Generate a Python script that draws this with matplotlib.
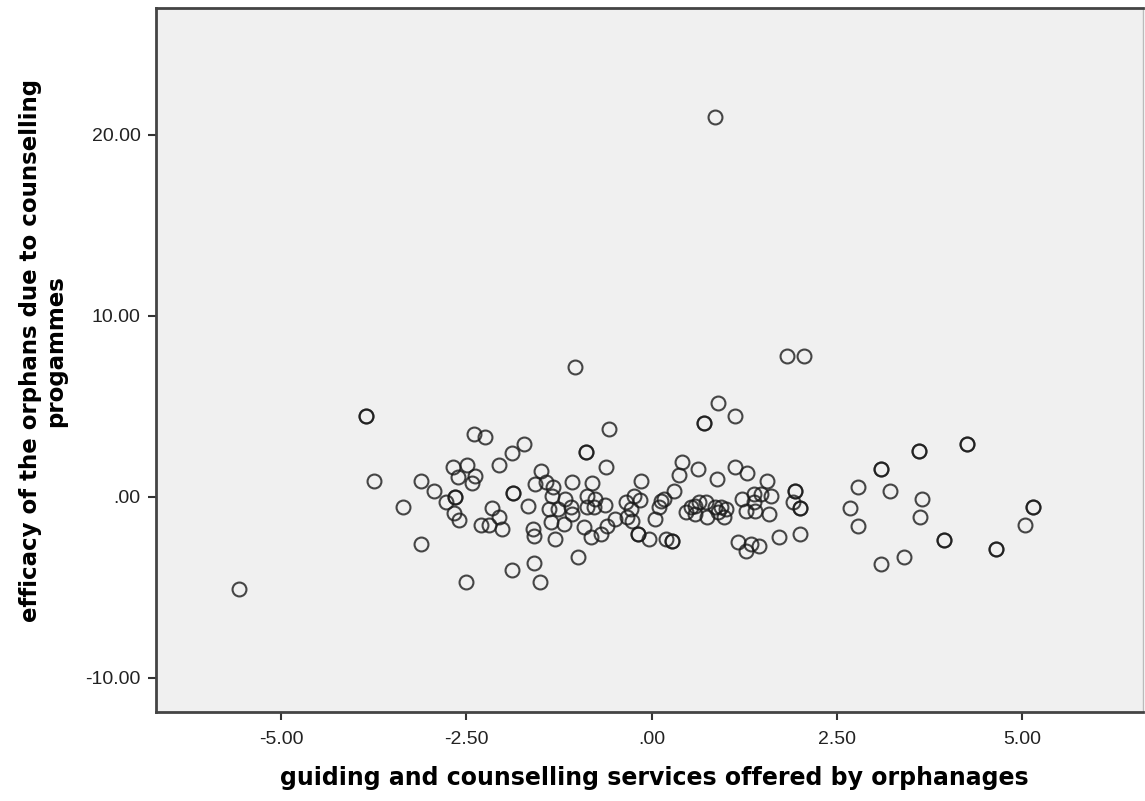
import matplotlib.pyplot as plt

# guiding and counselling services score (x) vs efficacy score (y)
x_vals = [
    0.86, -1.03, 1.82, 2.06, -3.86, -3.86, -3.75, -5.57, -3.36,
    -2.40, -2.25, -1.73, -1.88, -2.06, -2.68, -2.49, -2.62, -2.38, -2.43,
    -3.11, -2.94, -2.65, -2.78, -2.67, -2.60, -2.16, -2.06, -2.31, -2.20,
    -2.02, -3.11, -2.51, -1.88, -1.59, -1.51, -1.87, -1.67, -1.49, -1.57,
    -1.43, -1.33, -1.34, -1.17, -1.07, -1.39, -1.27, -1.09, -1.07, -1.36,
    -1.19, -1.60, -1.59, -1.30, -0.91, -1.00, -0.89, -0.89, -0.88, -0.87,
    0.89, 0.71, 0.71, 1.13, -0.58, -0.62, 0.41, 0.62, 0.37, 0.88,
    1.13, 1.28, 1.56, -0.15, -0.80, -0.76, 0.30, -0.24, -0.16, -0.35,
    0.12, 0.17, 0.10, -0.78, -0.63, -0.28, -0.33, 0.05, -0.49, -0.60,
    -0.69, -0.82, -0.26, -0.19, -0.19, -0.04, 0.19, 0.28, 0.28, 0.46,
    0.59, 0.64, 0.73, 0.59, 0.75, 0.86, 0.93, 1.00, 0.98, 0.53,
    1.22, 1.27, 1.38, 1.40, 1.47, 1.61, 1.38, 1.58, 1.16, 1.27,
    1.34, 1.45, 1.72, 1.94, 1.94, 1.90, 2.00, 2.00, 2.00, 2.79,
    2.68, 2.79, 3.09, 3.09, 3.22, 3.60, 3.60, 3.65, 3.62, 3.94,
    3.94, 3.10, 3.40, 4.26, 4.26, 5.15, 5.15, 5.04, 4.64, 4.64,
    0.89, -1.87, -2.65,
]
y_vals = [
    21.00, 7.16, 7.76, 7.76, 4.48, 4.48, 0.89, -5.11, -0.59,
    3.47, 3.28, 2.92, 2.40, 1.77, 1.62, 1.75, 1.07, 1.16, 0.74,
    0.89, 0.29, 0.00, -0.32, -0.92, -1.29, -0.63, -1.11, -1.55, -1.55,
    -1.79, -2.62, -4.74, -4.04, -3.64, -4.74, 0.18, -0.50, 1.40, 0.70,
    0.79, 0.51, 0.06, -0.13, 0.79, -0.68, -0.68, -0.59, -0.96, -1.42,
    -1.51, -1.79, -2.16, -2.34, -1.70, -3.36, 2.45, 2.45, 0.06, -0.59,
    5.16, 4.06, 4.06, 4.43, 3.75, 1.66, 1.90, 1.53, 1.20, 0.98,
    1.66, 1.29, 0.89, 0.89, 0.74, -0.13, 0.29, 0.06, -0.18, -0.32,
    -0.22, -0.13, -0.55, -0.59, -0.44, -0.68, -1.15, -1.23, -1.23, -1.60,
    -2.06, -2.25, -1.33, -2.06, -2.06, -2.34, -2.34, -2.47, -2.47, -0.87,
    -0.50, -0.32, -0.32, -0.96, -1.15, -0.59, -0.59, -0.68, -1.15, -0.59,
    -0.13, -0.77, 0.15, -0.77, 0.15, 0.06, -0.32, -0.96, -2.53, -2.99,
    -2.62, -2.71, -2.25, 0.33, 0.33, -0.32, -0.65, -0.65, -2.06, 0.51,
    -0.63, -1.60, 1.53, 1.53, 0.29, 2.51, 2.51, -0.13, -1.11, -2.38,
    -2.38, -3.72, -3.36, 2.92, 2.92, -0.59, -0.59, -1.55, -2.89, -2.89,
    -0.87, 0.18, 0.00,
]

x_ticks = [-5.0, -2.5, 0.0, 2.5, 5.0]
x_tick_labels = ['-5.00', '-2.50', '.00', '2.50', '5.00']
y_ticks = [-10.0, 0.0, 10.0, 20.0]
y_tick_labels = ['-10.00', '.00', '10.00', '20.00']

plt.rcParams['font.family'] = ['Liberation Sans', 'DejaVu Sans']

fig = plt.figure(figsize=(11.45, 8.01), dpi=100)
ax = fig.add_axes([0.1362, 0.1111, 0.8621, 0.879])
ax.set_facecolor('#f0f0f0')

ax.plot(x_vals, y_vals, linestyle='none', marker='o', markersize=10,
        markerfacecolor='none', markeredgecolor='#1a1a1a',
        markeredgewidth=1.5, alpha=0.8)

ax.set_xlim(-6.69, 6.63)
ax.set_ylim(-11.9, 27.0)
ax.set_xticks(x_ticks)
ax.set_xticklabels(x_tick_labels)
ax.set_yticks(y_ticks)
ax.set_yticklabels(y_tick_labels)
ax.tick_params(axis='both', direction='out', length=6, width=1.5,
               color='#333333', labelsize=14, labelcolor='#222222', pad=5)
ax.tick_params(axis='x', pad=8)

for side in ['left', 'bottom', 'top']:
    ax.spines[side].set_color('#444444')
    ax.spines[side].set_linewidth(2)
ax.spines['right'].set_color('#bbbbbb')
ax.spines['right'].set_linewidth(1)

ax.set_xlabel('guiding and counselling services offered by orphanages',
              fontsize=17, fontweight='bold', family='DejaVu Sans')
ax.xaxis.set_label_coords(0.5045, -0.077)
ax.set_ylabel('efficacy of the orphans due to counselling\nprogammes',
              fontsize=16.5, fontweight='bold', family='DejaVu Sans',
              linespacing=1.1)
ax.yaxis.set_label_coords(-0.090, 0.513)

fig.savefig('out.png', dpi=100)
